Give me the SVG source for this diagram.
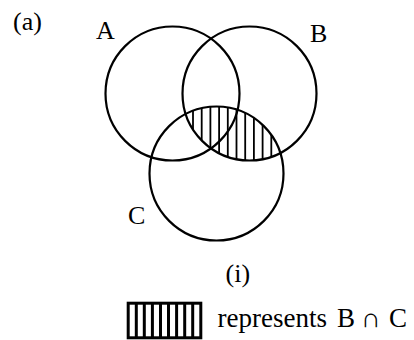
<svg xmlns="http://www.w3.org/2000/svg" width="414" height="340" viewBox="0 0 414 340">
  <style>
    .set { fill: none; stroke: #000; stroke-width: 2.2; }
    .lbl { font-family: "Liberation Serif", "Times New Roman", serif; font-size: 26px; fill: #000; }
    .leg { font-family: "Liberation Serif", "Times New Roman", "DejaVu Serif", serif; font-size: 27px; fill: #000; }
    .hatch line { stroke: #000; stroke-width: 1.8; }
    .lhatch line { stroke: #000; stroke-width: 3; }
  </style>
  <defs>
    <clipPath id="lens">
      <path d="M185.6,114 A67,67 0 0 1 280.4,153 A67,67 0 0 1 185.6,114 Z"/>
    </clipPath>
  </defs>
  <rect width="414" height="340" fill="#fff"/>
  <text class="lbl" x="13" y="29.5">(a)</text>

  <g id="hatch-BC" class="hatch" clip-path="url(#lens)">
    <line x1="193" y1="100" x2="193" y2="170"/>
    <line x1="201.7" y1="100" x2="201.7" y2="170"/>
    <line x1="210.4" y1="100" x2="210.4" y2="170"/>
    <line x1="219.1" y1="100" x2="219.1" y2="170"/>
    <line x1="227.8" y1="100" x2="227.8" y2="170"/>
    <line x1="236.5" y1="100" x2="236.5" y2="170"/>
    <line x1="245.2" y1="100" x2="245.2" y2="170"/>
    <line x1="253.9" y1="100" x2="253.9" y2="170"/>
    <line x1="262.6" y1="100" x2="262.6" y2="170"/>
    <line x1="271.3" y1="100" x2="271.3" y2="170"/>
    <line x1="280" y1="100" x2="280" y2="170"/>
  </g>

  <g id="setA">
    <circle class="set" cx="172.5" cy="93.5" r="67"/>
    <text class="lbl" x="96" y="39">A</text>
  </g>
  <g id="setB">
    <circle class="set" cx="249.5" cy="93.5" r="67"/>
    <text class="lbl" x="310" y="42">B</text>
  </g>
  <g id="setC">
    <circle class="set" cx="216.5" cy="173.5" r="67"/>
    <text class="lbl" x="128" y="223.5">C</text>
  </g>

  <text class="lbl" x="225.5" y="282">(i)</text>

  <g id="legend">
    <g class="lhatch">
      <line x1="136.3" y1="303" x2="136.3" y2="338"/>
      <line x1="144.3" y1="303" x2="144.3" y2="338"/>
      <line x1="152.4" y1="303" x2="152.4" y2="338"/>
      <line x1="160.5" y1="303" x2="160.5" y2="338"/>
      <line x1="168.5" y1="303" x2="168.5" y2="338"/>
      <line x1="176.6" y1="303" x2="176.6" y2="338"/>
      <line x1="184.7" y1="303" x2="184.7" y2="338"/>
      <line x1="192.7" y1="303" x2="192.7" y2="338"/>
    </g>
    <rect x="128.2" y="303.2" width="72.6" height="34.6" fill="none" stroke="#000" stroke-width="3"/>
    <text class="leg" y="327.3"><tspan x="217.5">represents</tspan><tspan x="337">B</tspan><tspan x="361">∩</tspan><tspan x="389">C</tspan></text>
  </g>
</svg>
